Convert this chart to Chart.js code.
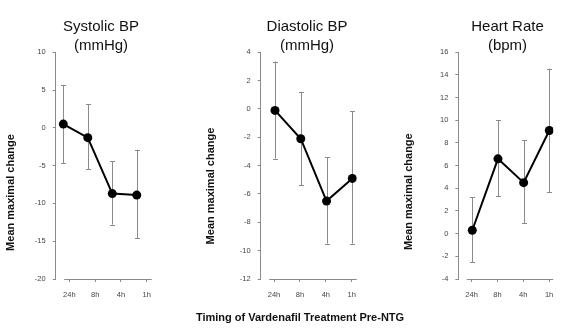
<!DOCTYPE html>
<html>
<head>
<meta charset="utf-8">
<script src="https://cdn.jsdelivr.net/npm/chart.js@4.4.1/dist/chart.umd.min.js"></script>
<style>
  html, body { margin: 0; padding: 0; background: #fff; }
  #wrap { position: relative; width: 565px; height: 333px; overflow: hidden; }
  #wrap canvas { position: absolute; left: 0; top: 0; }
</style>
</head>
<body>
<div id="wrap">
  <canvas id="c1" width="565" height="333"></canvas>
  <canvas id="c2" width="565" height="333"></canvas>
  <canvas id="c3" width="565" height="333"></canvas>
</div>
<script>
// ---- Data ----
const timeLabels = ['24h', '8h', '4h', '1h'];

const sysMean = [0.5, -1.3, -8.7, -8.9];
const sysLow  = [-4.7, -5.5, -12.8, -14.6];
const sysHigh = [5.7, 3.1, -4.4, -2.9];

const diaMean = [-0.1, -2.1, -6.5, -4.9];
const diaLow  = [-3.5, -5.4, -9.5, -9.5];
const diaHigh = [3.35, 1.2, -3.4, -0.15];

const hrMean = [0.3, 6.6, 4.5, 9.1];
const hrLow  = [-2.5, 3.3, 0.9, 3.65];
const hrHigh = [3.2, 10.0, 8.25, 14.55];

const panelTitles = [['Systolic BP', '(mmHg)'], ['Diastolic BP', '(mmHg)'], ['Heart Rate', '(bpm)']];
const yAxisTitle = 'Mean maximal change';
const xAxisTitle = 'Timing of Vardenafil Treatment Pre-NTG';

// ---- Style / layout ----
const FONT = '"Liberation Sans", Arial, Helvetica, sans-serif';
const AXIS_COLOR = '#8a8a8a';
const TICK_COLOR = '#444';
const BAR_COLOR = '#8a8a8a';

function makePanel(canvasId, mean, low, high, yMin, yMax, yStep, layout, titles, drawXTitle) {
  const errorBars = {
    id: 'errorBars_' + canvasId,
    beforeDatasetsDraw(chart) {
      const ctx = chart.ctx;
      const xs = chart.scales.x, ys = chart.scales.y;
      ctx.save();
      ctx.strokeStyle = BAR_COLOR;
      ctx.lineWidth = 1;
      for (let i = 0; i < mean.length; i++) {
        const px = Math.round(xs.getPixelForValue(i)) + 0.5;
        const y1 = ys.getPixelForValue(high[i]);
        const y2 = ys.getPixelForValue(low[i]);
        ctx.beginPath();
        ctx.moveTo(px, y1); ctx.lineTo(px, y2);
        ctx.moveTo(px - 2.5, Math.round(y1) + 0.5); ctx.lineTo(px + 2.5, Math.round(y1) + 0.5);
        ctx.moveTo(px - 2.5, Math.round(y2) + 0.5); ctx.lineTo(px + 2.5, Math.round(y2) + 0.5);
        ctx.stroke();
      }
      ctx.restore();
    },
    afterDraw(chart) {
      const ctx = chart.ctx;
      const a = chart.chartArea;
      ctx.save();
      // x axis line (detached from y axis)
      ctx.strokeStyle = AXIS_COLOR;
      ctx.lineWidth = 1;
      ctx.beginPath();
      const yb = Math.round(a.bottom) + 0.5;
      ctx.moveTo(a.left + 8.5, yb); ctx.lineTo(a.right, yb);
      ctx.stroke();
      // panel title
      ctx.fillStyle = '#111';
      ctx.font = '15px ' + FONT;
      ctx.textAlign = 'center';
      ctx.textBaseline = 'alphabetic';
      ctx.fillText(titles[0], layout.titleX, 31);
      ctx.fillText(titles[1], layout.titleX, 50);
      // y axis title
      ctx.font = 'bold 11px ' + FONT;
      ctx.textBaseline = 'middle';
      ctx.translate(layout.yTitleX, layout.yTitleY);
      ctx.rotate(-Math.PI / 2);
      ctx.fillText(yAxisTitle, 0, 0);
      ctx.restore();
      if (drawXTitle) {
        ctx.save();
        ctx.fillStyle = '#111';
        ctx.font = 'bold 11px ' + FONT;
        ctx.textAlign = 'center';
        ctx.textBaseline = 'middle';
        ctx.fillText(xAxisTitle, 300, 318);
        ctx.restore();
      }
    }
  };

  return new Chart(document.getElementById(canvasId), {
    type: 'line',
    data: {
      datasets: [{
        data: mean.map((v, i) => ({ x: i, y: v })),
        xAxisID: 'x',
        yAxisID: 'y',
        borderColor: '#000',
        borderWidth: 2,
        backgroundColor: '#000',
        pointRadius: 4.5,
        pointBackgroundColor: '#000',
        pointBorderWidth: 0,
        tension: 0,
        fill: false
      }]
    },
    options: {
      responsive: false,
      devicePixelRatio: 1,
      animation: false,
      events: [],
      layout: { padding: { left: layout.left - 30, right: 565 - layout.right, top: 52.3, bottom: 333 - 279 - 30 } },
      plugins: { legend: { display: false }, tooltip: { enabled: false }, title: { display: false } },
      scales: {
        x: { type: 'linear', display: false, min: layout.dMin, max: layout.dMax },
        xt: {
          type: 'linear', position: 'bottom', min: layout.tMin, max: layout.tMax,
          afterBuildTicks(s) { s.ticks = timeLabels.map((_, i) => ({ value: i })); },
          afterFit(s) { s.height = 30; },
          ticks: {
            autoSkip: false, maxRotation: 0, padding: 8,
            color: TICK_COLOR, font: { family: FONT, size: 7.5 },
            callback: (v) => timeLabels[v] !== undefined ? timeLabels[v] : ''
          },
          grid: { drawOnChartArea: false, drawTicks: true, tickLength: 3, color: AXIS_COLOR },
          border: { display: false }
        },
        y: {
          type: 'linear', position: 'left', min: yMin, max: yMax,
          afterFit(s) { s.width = 30; },
          ticks: {
            stepSize: yStep, autoSkip: false, padding: 7,
            color: TICK_COLOR, font: { family: FONT, size: 7.5 }
          },
          grid: { drawOnChartArea: false, drawTicks: true, tickLength: 3, color: AXIS_COLOR },
          border: { display: true, color: AXIS_COLOR, width: 1 }
        }
      }
    },
    plugins: [errorBars]
  });
}

makePanel('c1', sysMean, sysLow, sysHigh, -20, 10, 5,
  { left: 55.7, right: 151.7, dMin: -0.31, dMax: 3.61, tMin: -0.527, tMax: 3.19,
    titleX: 101, yTitleX: 11, yTitleY: 192.5 },
  panelTitles[0], false);

makePanel('c2', diaMean, diaLow, diaHigh, -12, 4, 2,
  { left: 260.7, right: 356.7, dMin: -0.555, dMax: 3.17, tMin: -0.514, tMax: 3.193,
    titleX: 307, yTitleX: 211, yTitleY: 186 },
  panelTitles[1], true);

makePanel('c3', hrMean, hrLow, hrHigh, -4, 16, 2,
  { left: 458.3, right: 553.3, dMin: -0.545, dMax: 3.155, tMin: -0.514, tMax: 3.163,
    titleX: 507.5, yTitleX: 409, yTitleY: 191.7 },
  panelTitles[2], false);
</script>
</body>
</html>
